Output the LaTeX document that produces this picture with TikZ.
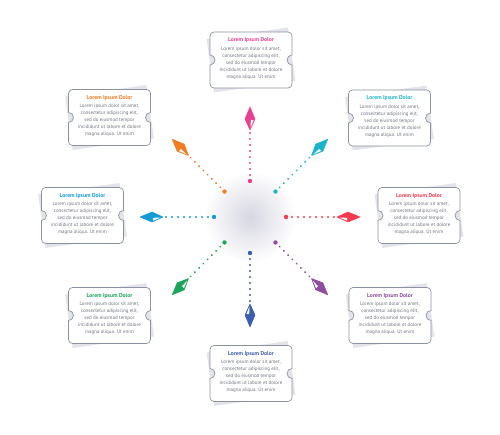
\documentclass[tikz,border=0pt]{standalone}
\usepackage{fontspec}
\setmainfont{PT Sans}
\definecolor{cpink}{HTML}{E8408E}
\definecolor{corange}{HTML}{F47B20}
\definecolor{cteal}{HTML}{1CB5C8}
\definecolor{cblue}{HTML}{149BD7}
\definecolor{cred}{HTML}{F23B4E}
\definecolor{cpurple}{HTML}{8D4DA0}
\definecolor{cnavy}{HTML}{3B5DB2}
\definecolor{cgreen}{HTML}{1AA55A}
\definecolor{shadowgray}{HTML}{E3E3EA}
\definecolor{boxline}{HTML}{8A93A6}
\definecolor{bodygray}{HTML}{6E7480}
\definecolor{glow}{HTML}{D6D6E2}
\tikzset{
  ticketline/.style={draw=boxline, line width=0.7pt, fill=white},
  ticketshadow/.style={fill=shadowgray},
  boxtext/.style={align=center, inner sep=0pt, text=bodygray, font=\fontsize{5.0}{6.9}\selectfont},
  bigdot/.style={fill=#1},
  kite/.style={fill=#1, draw=#1, line width=0.5pt, line join=round},
}
\newcommand{\ticket}[4]{%
  \begin{scope}[shift={(#2,#3)}]
    \fill[ticketshadow, rotate=8] (-41,-27) rectangle (41,27);
    \path[ticketline] (-37,-28) -- (37,-28) arc[start angle=90,end angle=0,radius=4pt]
      -- (41,-5) arc[start angle=90,end angle=270,radius=5pt]
      -- (41,24) arc[start angle=0,end angle=-90,radius=4pt]
      -- (-37,28) arc[start angle=-90,end angle=-180,radius=4pt]
      -- (-41,5) arc[start angle=-90,end angle=90,radius=5pt]
      -- (-41,-24) arc[start angle=180,end angle=90,radius=4pt] -- cycle;
    \node[boxtext] (#1) at (0,-1.5) {{\color{#4}\bfseries\fontsize{5.6}{7}\selectfont Lorem Ipsum Dolor}\\[1.6pt]
      Lorem ipsum dolor sit amet,\\ consectetur adipiscing elit,\\ sed do eiusmod tempor\\
      incididunt ut labore et dolore\\ magna aliqua. Ut enim};
  \end{scope}}
\newcommand{\spoke}[4]{% name, angle, colour, side
  \begin{scope}[shift={(250,217)}, rotate=-#2]
    \coordinate (#1-in) at (36,0);
    \coordinate (#1-out) at (87,0);
    \fill[bigdot=#3] (#1-in) circle (2.2pt);
    \foreach \d in {42,48,...,84} \fill[#3] (\d,0) circle (1.05pt);
    \path[kite=#3] (110,0) -- (98,5) -- (#1-out) -- (98,-5) -- cycle;
    \fill[white] (97,#4*3.6) -- (89.5,#4*0.6) -- (97,#4*0.8) -- cycle;
  \end{scope}}
\begin{document}
\begin{tikzpicture}[x=1pt,y=-1pt]
\useasboundingbox (0,0) rectangle (500,434);
\fill[white] (0,0) rectangle (500,434);
\shade[inner color=glow, outer color=white] (250,217) circle (46pt);
\spoke{sTop}{270}{cpink}{1}
\spoke{sUR}{315}{cteal}{1}
\spoke{sR}{0}{cred}{1}
\spoke{sLR}{45}{cpurple}{1}
\spoke{sB}{90}{cnavy}{1}
\spoke{sLL}{135}{cgreen}{-1}
\spoke{sL}{180}{cblue}{-1}
\spoke{sUL}{225}{corange}{-1}
\ticket{tTop}{251}{60}{cpink}
\ticket{tUL}{109.5}{117.5}{corange}
\ticket{tUR}{389.5}{118}{cteal}
\ticket{tL}{82.5}{215.5}{cblue}
\ticket{tR}{419}{215.5}{cred}
\ticket{tLL}{109.5}{315.5}{cgreen}
\ticket{tLR}{390}{315.5}{cpurple}
\ticket{tB}{251}{373.5}{cnavy}
\end{tikzpicture}
\end{document}
